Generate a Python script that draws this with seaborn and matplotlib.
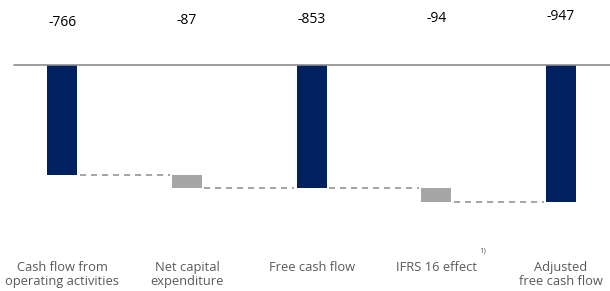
import numpy as np
import pandas as pd
import seaborn as sns
import matplotlib.pyplot as plt

# waterfall data (EUR m)
categories = ["Cash flow from\noperating activities", "Net capital\nexpenditure",
              "Free cash flow", "IFRS 16 effect", "Adjusted\nfree cash flow"]
values = [-766, -87, -853, -94, -947]
is_total = [True, False, True, False, True]

# running levels for the floating bars
starts = []
ends = []
level = 0
for v, tot in zip(values, is_total):
    if tot:
        starts.append(0)
        ends.append(v)
        level = v
    else:
        starts.append(level)
        ends.append(level + v)
        level = level + v

df = pd.DataFrame({"cat": categories, "start": starts, "end": ends, "value": values})

navy = "#002060"
grey = "#A6A6A6"
colors = [navy if t else grey for t in is_total]

sns.set_style("white")
plt.rcParams["font.family"] = ["Open Sans", "DejaVu Sans"]

fig = plt.figure(figsize=(6.10, 2.91), dpi=100)
ax = fig.add_axes([0, 51 / 291, 1, 240 / 291])

bw = 0.24
sns.barplot(data=df, x="cat", y="end", hue="cat", palette=colors, legend=False,
            width=bw, linewidth=0, saturation=1, ax=ax)
# white cover for the part above each floating bar
sns.barplot(data=df, x="cat", y="start", color="white", width=bw,
            linewidth=0, saturation=1, ax=ax)

# dashed connectors
for i in range(len(df) - 1):
    ax.plot([i + bw / 2 + 0.02, i + 1 - bw / 2 - 0.02], [ends[i], ends[i]],
            ls=(0, (4, 3.2)), color="#8C8C8C", lw=1.1, zorder=1)

ax.set_xlim(-0.4996, 4.392)
ax.set_ylim(-1213.6, 450.8)
ax.axhline(0, xmin=14 / 610, xmax=1, color="#8C8C8C", lw=1.2, zorder=3)

# value labels on top (text boxes sit slightly staggered in the original)
label_py = [22, 20, 19, 18.5, 16.5]
for i, v in enumerate(values):
    ax.text(i, (65 - label_py[i]) / 0.1442, f"{v}", ha="center", va="center",
            fontsize=10, color="black")

# category labels below
for i, c in enumerate(categories):
    ax.text(i, -1360, c, ha="center", va="top", fontsize=9.3,
            color="#595959", linespacing=1.12)
ax.text(3.37, -1290, "1)", ha="center", va="center", fontsize=5.5, color="#595959")

ax.set_xlabel("")
ax.set_ylabel("")
ax.set_xticks([])
ax.set_yticks([])
for s in ax.spines.values():
    s.set_visible(False)
for t in ax.texts:
    t.set_clip_on(False)

fig.savefig("out.png", dpi=100)
